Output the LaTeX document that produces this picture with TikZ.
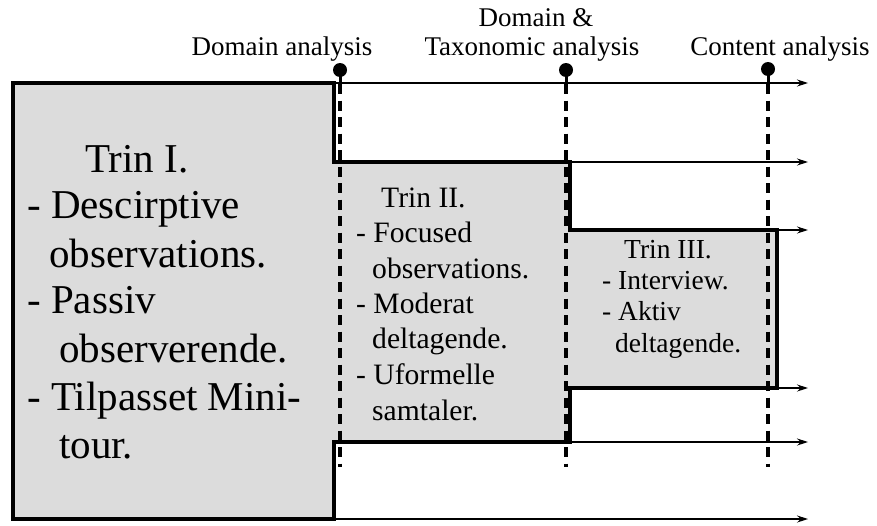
\documentclass[tikz,border=0pt]{standalone}
\usepackage{fontspec}
\setmainfont{Liberation Serif}
\usetikzlibrary{arrows.meta}
\definecolor{stagegray}{HTML}{DCDCDC}
\begin{document}
\begin{tikzpicture}[x=1pt,y=-1pt,
  stage/.style={draw=black,line width=3.8pt,fill=stagegray,line join=miter},
  arr/.style={line width=1.1pt,-{Stealth[length=11pt,width=7pt]}},
  vdash/.style={line width=3.2pt,dash pattern=on 10pt off 6.5pt},
  pinhead/.style={circle,fill=black,inner sep=0pt,minimum size=14pt},
  stem/.style={line width=3pt},
  big/.style={font=\fontsize{41}{48}\selectfont,inner sep=0pt,anchor=base west},
  mid/.style={font=\fontsize{29.6}{35}\selectfont,inner sep=0pt,anchor=base west},
  sml/.style={font=\fontsize{27.5}{32}\selectfont,inner sep=0pt,anchor=base west},
  lbl/.style={font=\fontsize{27}{32}\selectfont,inner sep=0pt,anchor=base},
]
\useasboundingbox (0,0) rectangle (877,525);

% corners of the staircase outline
\coordinate (c1) at (13,83);
\coordinate (c2) at (334,83);
\coordinate (c3) at (334,162);
\coordinate (c4) at (570,162);
\coordinate (c5) at (570,230);
\coordinate (c6) at (777,230);
\coordinate (c7) at (777,388);
\coordinate (c8) at (570,388);
\coordinate (c9) at (570,442);
\coordinate (c10) at (334,442);
\coordinate (c11) at (334,519);
\coordinate (c12) at (13,519);

\draw[stage] (c1) -- (c2) -- (c3) -- (c4) -- (c5) -- (c6) -- (c7) -- (c8) -- (c9) -- (c10) -- (c11) -- (c12) -- cycle;

% arrow ends
\coordinate (e1) at (808,83);
\coordinate (e2) at (808,162);
\coordinate (e3) at (808,230);
\coordinate (e4) at (808,388);
\coordinate (e5) at (808,442);
\coordinate (e6) at (808,519);

\draw[arr] (c2) -- (e1);
\draw[arr] (c4) -- (e2);
\draw[arr] (c6) -- (e3);
\draw[arr] (c7) -- (e4);
\draw[arr] (c9) -- (e5);
\draw[arr] (c11) -- (e6);

% pins and dashed lines
\node[pinhead] (p1) at (340,70) {};
\node[pinhead] (p2) at (566,70) {};
\node[pinhead] (p3) at (768,69) {};
\coordinate (s1) at (340,84);
\coordinate (s2) at (566,84);
\coordinate (s3) at (768,84);
\coordinate (d1) at (340,467);
\coordinate (d2) at (566,467);
\coordinate (d3) at (768,467);
\draw[stem] (p1.center) -- (s1);
\draw[stem] (p2.center) -- (s2);
\draw[stem] (p3.center) -- (s3);
\draw[vdash] (s1) -- (d1);
\draw[vdash] (s2) -- (d2);
\draw[vdash] (s3) -- (d3);

% top labels
\node[lbl] (l1) at (282,55) {Domain analysis};
\node[lbl] (l2a) at (536,26) {Domain \&};
\node[lbl] (l2b) at (532,55) {Taxonomic analysis};
\node[lbl] (l3) at (780,55) {Content analysis};

% Trin I
\node[big] (t1a) at (85,172) {Trin I.};
\node[big] (t1b) at (27,218) {- Descirptive};
\node[big] (t1c) at (49,267) {observations.};
\node[big] (t1d) at (27,313) {- Passiv};
\node[big] (t1e) at (59,362) {observerende.};
\node[big] (t1f) at (27,410) {- Tilpasset Mini-};
\node[big] (t1g) at (59,458) {tour.};

% Trin II
\node[mid] (t2a) at (381,207) {Trin II.};
\node[mid] (t2b) at (356,242) {- Focused};
\node[mid] (t2c) at (372,278) {observations.};
\node[mid] (t2d) at (356,313) {- Moderat};
\node[mid] (t2e) at (372,348) {deltagende.};
\node[mid] (t2f) at (356,384) {- Uformelle};
\node[mid] (t2g) at (372,420) {samtaler.};

% Trin III
\node[sml] (t3a) at (624,258) {Trin III.};
\node[sml] (t3b) at (602,289) {- Interview.};
\node[sml] (t3c) at (602,320) {- Aktiv};
\node[sml] (t3d) at (615,352) {deltagende.};
\end{tikzpicture}
\end{document}
